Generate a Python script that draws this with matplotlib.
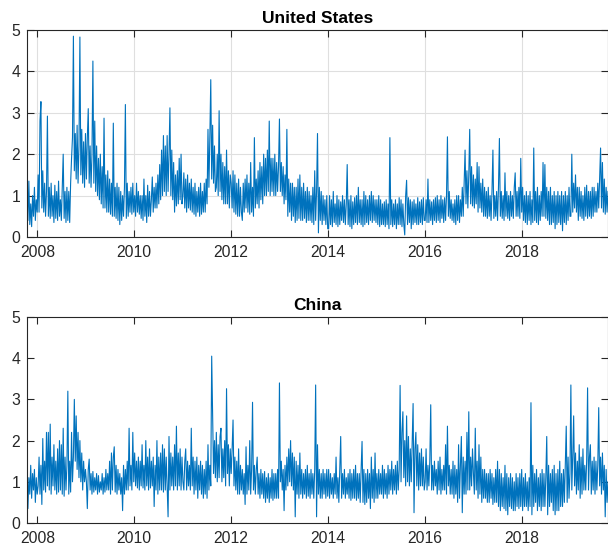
#!/usr/bin/env python3
"""Daily series for United States and China, two stacked panels."""
import matplotlib
matplotlib.use("Agg")
import matplotlib.pyplot as plt
import matplotlib.dates as mdates
import pandas as pd

plt.rcParams.update({
    "font.family": ["Liberation Sans", "DejaVu Sans"],
    "axes.edgecolor": "#262626",
    "xtick.color": "#262626",
    "ytick.color": "#262626",
})

# weekly readings (Mondays), mid Oct 2007 .. mid Oct 2019
us_vals = [
    0.9, 0.4, 1.35, 0.3, 0.8, 0.25, 1.0, 0.5, 1.2, 0.4, 0.9, 0.6,            # 2007
    1.5, 0.6, 2.8, 3.27, 0.7, 1.6, 0.6, 1.3, 0.5, 1.1, 2.92, 0.5,             # 2008
    1.2, 0.45, 1.3, 0.5, 1.0, 0.35, 1.25, 0.45, 1.1, 0.4, 1.35, 0.5,
    0.9, 0.4, 1.2, 2.0, 0.45, 1.1, 0.35, 1.2, 0.4, 1.1, 0.35, 1.3,
    1.9, 2.4, 4.85, 1.6, 2.5, 1.4, 2.7, 1.3, 2.2, 4.83, 1.5, 2.6,
    1.3, 2.3, 1.2, 2.5,
    1.4, 2.4, 3.1, 1.3, 2.2, 1.2, 2.0, 4.25, 1.3, 2.8, 1.1, 2.2,              # 2009
    1.0, 1.9, 0.9, 2.0, 0.8, 1.7, 0.7, 2.87, 0.7, 1.5, 0.6, 1.6,
    0.6, 1.4, 0.55, 1.3, 0.5, 2.75, 0.5, 1.2, 0.45, 1.3, 0.4, 1.2,
    0.3, 1.1, 0.4, 1.0, 0.5, 1.2, 3.2, 0.45, 1.3, 0.5, 1.1, 0.6,
    1.2, 0.55, 1.3, 0.6,
    1.0, 0.5, 1.3, 0.6, 1.1, 0.55, 1.0, 0.45, 1.0, 0.4, 1.4, 0.5,             # 2010
    1.0, 0.35, 1.25, 0.5, 1.1, 0.5, 0.9, 1.45, 0.6, 1.2, 0.7, 1.3,
    0.7, 1.5, 0.8, 1.75, 0.9, 2.1, 1.0, 2.45, 1.1, 2.2, 1.0, 2.45,
    1.1, 2.0, 3.12, 1.0, 2.1, 0.9, 1.8, 0.6, 1.5, 0.75, 1.6, 0.8,
    1.9, 0.9, 2.0, 0.8,
    1.0, 1.55, 0.7, 1.4, 0.6, 1.5, 0.7, 1.3, 0.65, 1.4, 0.6, 1.2,             # 2011
    0.55, 1.3, 0.5, 1.1, 0.6, 1.2, 0.5, 1.3, 0.55, 1.1, 0.6, 1.3,
    0.6, 1.4, 0.8, 2.6, 1.2, 2.4, 3.8, 1.4, 2.7, 1.3, 2.2, 1.1,
    1.2, 2.0, 1.0, 3.05, 1.1, 2.0, 0.9, 1.8, 0.8, 1.7, 0.8, 2.1,
    0.8, 1.6, 0.7, 1.5,
    1.3, 0.7, 1.6, 0.6, 1.5, 0.55, 1.3, 0.5, 1.4, 0.5, 1.2, 0.6,              # 2012
    0.4, 1.3, 0.6, 1.4, 0.7, 1.5, 0.6, 1.3, 0.55, 1.8, 0.6, 1.2,
    0.5, 2.4, 0.7, 1.4, 0.8, 1.6, 0.7, 1.8, 0.9, 1.7, 0.8, 2.0,
    1.0, 1.9, 1.0, 2.1, 1.1, 2.8, 1.0, 1.9, 1.1, 1.9, 1.0, 2.0,
    1.0, 1.8, 1.1, 1.7, 2.85,
    1.1, 1.8, 1.0, 1.7, 0.8, 1.5, 0.9, 2.6, 0.5, 1.4, 0.6, 1.3,               # 2013
    0.4, 1.3, 0.5, 1.2, 0.35, 1.2, 0.4, 1.4, 0.45, 1.5, 0.4, 1.2,
    0.4, 1.3, 0.45, 1.1, 0.35, 1.2, 0.4, 1.1, 0.4, 1.0, 0.35, 1.2,
    0.3, 1.6, 0.4, 1.1, 2.5, 0.1, 1.2, 0.4, 1.1, 0.3, 1.0, 0.4,
    0.9, 0.3, 1.0, 0.2,
    0.2, 1.0, 0.3, 0.9, 0.25, 1.1, 0.35, 0.8, 0.3, 1.0, 0.25, 0.9,            # 2014
    0.3, 0.85, 0.4, 1.0, 0.35, 0.9, 0.3, 0.8, 1.75, 0.3, 0.9, 0.25,
    1.0, 0.2, 0.85, 0.3, 0.95, 0.35, 1.0, 0.3, 1.2, 0.35, 0.9, 0.3,
    0.9, 0.25, 1.1, 0.3, 1.0, 0.35, 0.9, 0.3, 1.0, 0.4, 1.1, 0.35,
    1.0, 0.4, 0.9, 0.35,
    0.9, 0.3, 1.0, 0.25, 0.9, 0.3, 0.8, 0.3, 0.85, 0.25, 0.9, 0.3,            # 2015
    0.8, 0.2, 2.4, 0.3, 0.9, 0.25, 0.8, 0.3, 0.9, 0.2, 0.8, 0.3,
    0.95, 0.3, 0.9, 0.25, 0.8, 0.3, 0.05, 1.0, 1.37, 0.3, 0.95, 0.35,
    0.9, 0.2, 0.85, 0.3, 0.9, 0.35, 0.8, 0.3, 0.95, 0.3, 0.85, 0.35,
    0.9, 0.3, 0.95, 0.4,
    0.4, 0.9, 0.35, 1.4, 0.35, 0.9, 0.4, 0.85, 0.3, 0.9, 0.4, 0.95,           # 2016
    0.35, 1.0, 0.4, 0.9, 0.35, 1.0, 0.45, 0.9, 0.35, 0.95, 0.4, 1.0,
    2.42, 0.5, 1.1, 0.45, 0.9, 0.4, 0.8, 0.35, 0.9, 0.3, 1.0, 0.4,
    1.0, 0.35, 0.9, 0.5, 1.2, 0.5, 1.3, 2.1, 0.8, 1.6, 0.7, 1.5,
    2.6, 0.8, 1.7, 0.75,
    1.5, 0.7, 1.4, 0.8, 1.8, 0.6, 1.7, 0.7, 1.3, 0.6, 1.4, 0.5,               # 2017
    1.2, 0.5, 1.1, 0.45, 1.2, 0.5, 1.0, 0.4, 1.1, 2.1, 0.45, 1.0,
    0.5, 1.1, 0.4, 1.2, 2.38, 0.5, 1.1, 0.45, 1.0, 0.4, 1.55, 0.5,
    1.1, 0.45, 1.0, 0.4, 1.1, 0.5, 1.0, 0.45, 1.2, 1.55, 0.5, 1.1,
    0.5, 1.2, 0.45, 1.9,
    0.6, 1.2, 0.4, 1.0, 0.35, 1.1, 0.3, 1.0, 0.4, 1.1, 0.3, 0.9,              # 2018
    0.35, 2.15, 0.4, 1.1, 0.35, 1.2, 0.3, 1.0, 0.4, 1.1, 0.5, 1.8,
    0.5, 1.75, 0.45, 1.2, 0.4, 1.1, 0.3, 1.2, 0.3, 1.0, 0.35, 1.1,
    0.2, 1.0, 0.3, 1.1, 0.35, 1.0, 0.3, 1.1, 0.15, 1.0, 0.35, 1.1,
    0.3, 1.0, 0.4, 1.2, 0.5,
    0.5, 2.0, 0.6, 1.3, 0.7, 1.5, 0.6, 1.2, 0.4, 1.2, 0.5, 1.1,               # 2019
    0.45, 1.0, 0.4, 1.2, 0.5, 1.25, 0.45, 1.1, 0.5, 1.1, 0.45, 1.2,
    0.5, 1.2, 0.6, 1.1, 0.6, 1.3, 0.7, 1.4, 2.15, 0.7, 1.8, 0.6,
    1.4, 0.55, 1.2, 0.6, 1.1,
]

cn_vals = [
    1.5, 0.35, 1.1, 0.7, 1.4, 0.6, 1.2, 0.8, 1.3, 0.5, 1.1, 0.7,             # 2007
    0.9, 1.6, 0.7, 1.4, 0.45, 2.05, 0.8, 1.5, 0.75, 2.2, 0.9, 2.2,            # 2008
    0.8, 2.4, 0.7, 1.6, 0.9, 1.9, 0.8, 1.5, 0.7, 1.8, 0.75, 2.0,
    0.8, 1.9, 0.7, 2.3, 0.65, 1.6, 0.8, 1.4, 3.2, 0.7, 1.5, 0.75,
    2.2, 1.0, 1.6, 3.0, 1.5, 2.6, 1.3, 2.2, 1.1, 2.0, 1.0, 1.7,
    0.8, 1.5, 1.0, 1.3,
    1.0, 0.35, 1.3, 1.55, 0.8, 1.2, 0.7, 1.25, 0.75, 1.1, 0.8, 1.2,           # 2009
    0.7, 1.15, 0.75, 1.0, 0.8, 1.2, 0.7, 1.1, 0.75, 1.3, 0.8, 1.2,
    0.8, 1.5, 0.7, 1.7, 0.8, 1.6, 1.85, 0.75, 1.4, 0.7, 1.3, 0.8,
    1.2, 0.7, 1.1, 0.3, 1.4, 0.7, 1.3, 0.8, 1.5, 0.8, 2.3, 0.9,
    1.4, 0.8, 2.2, 1.0,
    1.7, 0.9, 1.5, 0.85, 1.6, 0.8, 1.5, 0.9, 1.9, 0.85, 1.4, 0.8,             # 2010
    2.0, 0.9, 1.6, 0.8, 1.8, 0.85, 1.5, 0.9, 1.6, 0.4, 1.4, 0.8,
    2.0, 0.7, 1.6, 0.8, 1.7, 0.8, 1.9, 0.75, 1.8, 0.8, 1.6, 0.9,
    0.15, 2.1, 0.8, 1.7, 0.9, 1.6, 0.8, 1.9, 0.9, 2.35, 0.8, 1.7,
    0.9, 1.8, 0.8, 1.6,
    1.0, 0.8, 1.5, 1.8, 0.8, 1.5, 0.9, 1.4, 0.8, 2.3, 0.9, 1.6,               # 2011
    0.7, 1.5, 0.8, 1.6, 0.6, 1.4, 0.8, 1.5, 0.7, 1.4, 0.6, 1.3,
    0.7, 1.5, 0.6, 1.9, 0.8, 1.4, 0.9, 4.05, 2.6, 1.2, 2.0, 1.1,
    2.2, 1.0, 1.9, 1.1, 2.1, 2.3, 1.0, 1.8, 1.1, 2.0, 0.9, 3.26,
    1.2, 1.9, 0.9, 1.8,
    1.2, 1.8, 2.5, 0.9, 1.6, 0.8, 1.5, 0.7, 1.8, 0.7, 1.4, 0.8,               # 2012
    1.3, 0.7, 1.2, 0.45, 1.85, 0.7, 1.4, 0.8, 2.0, 0.7, 1.3, 2.93,
    0.8, 1.4, 0.7, 1.3, 1.6, 0.7, 1.2, 0.6, 1.3, 0.7, 1.2, 0.6,
    1.25, 0.5, 1.1, 0.6, 1.2, 0.5, 1.1, 0.6, 1.3, 0.55, 1.2, 0.6,
    1.2, 0.6, 1.3, 0.6, 3.4,
    1.0, 1.5, 0.8, 1.3, 0.3, 1.4, 0.8, 1.6, 0.9, 1.8, 1.0, 2.0,               # 2013
    0.9, 1.7, 0.8, 1.6, 0.15, 1.5, 0.7, 1.4, 0.6, 1.7, 0.7, 1.3,
    0.6, 1.2, 0.7, 1.3, 0.6, 1.4, 0.65, 1.2, 0.6, 1.3, 0.7, 1.2,
    0.6, 1.3, 3.35, 0.15, 1.9, 0.7, 1.3, 0.6, 1.2, 0.6, 1.3, 0.7,
    1.2, 0.6, 1.3, 0.65,
    1.3, 0.6, 1.2, 0.7, 1.1, 0.6, 1.2, 0.7, 1.6, 0.6, 1.1, 0.5,               # 2014
    1.3, 2.1, 0.6, 1.2, 0.7, 1.3, 0.6, 1.1, 0.7, 1.2, 0.6, 1.3,
    0.55, 1.2, 0.6, 1.3, 0.6, 1.4, 0.55, 1.2, 0.6, 1.2, 0.5, 1.3,
    1.98, 0.5, 1.3, 0.45, 1.2, 0.5, 1.3, 0.6, 1.2, 0.35, 1.6, 0.6,
    1.3, 0.5, 1.7, 0.6,
    1.2, 0.6, 1.3, 0.7, 1.2, 0.7, 1.4, 0.6, 1.3, 0.7, 1.2, 0.6,               # 2015
    1.4, 0.7, 1.3, 0.8, 1.5, 0.7, 1.3, 0.8, 1.4, 0.7, 1.5, 0.8,
    1.3, 3.34, 1.0, 2.2, 2.7, 1.1, 2.0, 0.9, 2.6, 1.0, 2.1, 0.9,
    1.8, 1.0, 2.0, 2.9, 0.25, 1.8, 2.2, 0.9, 1.9, 0.8, 1.7, 0.9,
    1.8, 0.9, 1.6, 0.8,
    1.0, 1.8, 0.8, 1.4, 0.9, 1.5, 2.87, 0.8, 1.4, 0.8, 1.5, 0.9,              # 2016
    1.3, 0.7, 1.5, 0.8, 1.6, 0.7, 1.3, 0.8, 1.4, 0.8, 1.9, 0.7,
    2.35, 0.9, 1.4, 0.7, 1.3, 0.7, 1.5, 0.6, 1.4, 0.7, 1.3, 0.5,
    1.9, 0.6, 1.4, 2.1, 0.25, 1.6, 0.7, 1.5, 0.7, 2.2, 0.8, 2.7,
    0.8, 1.6, 0.9, 1.8,
    1.2, 0.7, 2.3, 0.8, 1.5, 0.6, 1.9, 0.7, 1.6, 0.5, 1.3, 0.6,               # 2017
    1.3, 0.6, 1.2, 0.5, 1.2, 0.5, 1.3, 0.6, 1.2, 0.45, 1.1, 0.5,
    1.3, 0.5, 1.5, 0.4, 1.3, 0.3, 1.2, 0.4, 1.1, 0.35, 1.4, 0.3,
    1.2, 0.2, 1.1, 0.4, 1.2, 0.35, 1.1, 0.3, 1.0, 0.3, 1.2, 0.4,
    1.1, 0.35, 1.2, 0.4,
    1.3, 0.3, 1.1, 0.4, 1.2, 0.4, 1.0, 0.3, 1.1, 0.4, 2.92, 0.2,              # 2018
    1.4, 0.4, 1.2, 0.5, 1.3, 0.3, 1.1, 0.4, 1.2, 0.3, 1.3, 0.4,
    1.2, 0.4, 1.1, 2.1, 0.2, 1.4, 0.4, 1.2, 0.5, 1.3, 0.3, 1.4,
    0.2, 1.2, 0.3, 1.3, 0.3, 1.5, 0.4, 1.2, 0.4, 1.3, 0.5, 1.4,
    2.35, 0.5, 1.6, 0.6, 1.2,
    3.35, 0.8, 1.6, 2.6, 0.9, 1.7, 0.7, 1.5, 0.8, 1.9, 0.6, 1.6,              # 2019
    0.7, 1.8, 0.8, 1.4, 0.8, 1.5, 3.28, 0.8, 1.6, 1.9, 0.7, 1.5,
    0.8, 1.6, 0.7, 1.5, 0.8, 1.4, 2.8, 0.9, 1.6, 0.7, 1.7, 0.8,
    1.4, 0.15, 1.3, 0.5, 1.0,
]

titles = ["United States", "China"]
yticks = [0, 1, 2, 3, 4, 5]

us_dates = pd.date_range("2007-10-15", periods=len(us_vals), freq="W-MON")
cn_dates = pd.date_range("2007-10-15", periods=len(cn_vals), freq="W-MON")
x_left = pd.Timestamp("2007-10-15")
x_right = pd.Timestamp("2019-10-14")

fig = plt.figure(figsize=(6.08, 5.52), dpi=100)
ax_us = fig.add_axes([27 / 608, 1 - 237 / 552, 581 / 608, 207 / 552])
ax_cn = fig.add_axes([27 / 608, 1 - 523 / 552, 581 / 608, 206 / 552])

panels = [(ax_us, us_dates, us_vals, titles[0], True),
          (ax_cn, cn_dates, cn_vals, titles[1], False)]
for ax, dates, vals, title, grid in panels:
    ax.plot(dates, vals, color="#0072BD", lw=0.8)
    ax.set_xlim(x_left, x_right)
    ax.set_ylim(0, 5)
    ax.set_yticks(yticks)
    ax.xaxis.set_major_locator(mdates.YearLocator(2))
    ax.xaxis.set_major_formatter(mdates.DateFormatter("%Y"))
    ax.tick_params(direction="in", length=5, width=0.8, labelsize=11.3,
                   top=True, right=True, pad=5)
    ax.tick_params(axis="x", pad=6)
    ax.set_title(title, fontweight="bold", fontsize=12.5, pad=5)
    for s in ax.spines.values():
        s.set_linewidth(0.8)
    if grid:
        ax.grid(True, color="#dfdfdf", lw=0.8)
        ax.set_axisbelow(True)

fig.savefig("out.png", dpi=100)
